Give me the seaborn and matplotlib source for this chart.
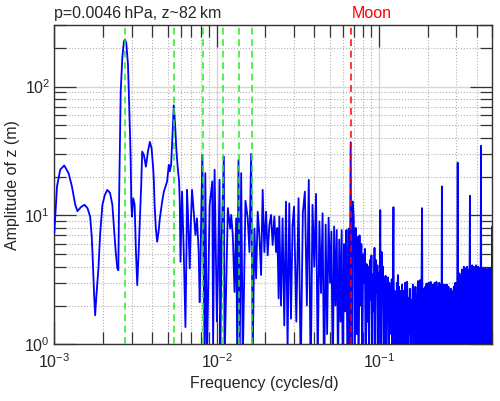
import numpy as np
import matplotlib
matplotlib.use('Agg')
import matplotlib.pyplot as plt
import matplotlib.ticker as mticker
import matplotlib.transforms as mtransforms
import seaborn as sns

## DATA - amplitude spectrum of z

# smooth low-frequency part (cycles/d, m)
low_freq = [0.001000, 0.001039, 0.001088, 0.001152, 0.001224, 0.001284, 0.001346,
            0.001390, 0.001458, 0.001534, 0.001601, 0.001663, 0.001699, 0.001718,
            0.001760, 0.001785, 0.001818, 0.001870, 0.001915, 0.001979, 0.002047,
            0.002123, 0.002206, 0.002279, 0.002334, 0.002391, 0.002446, 0.002480]
low_amp = [7.3, 16.8, 22.7, 24.4, 21.3, 16.8, 12.1,
           10.8, 11.6, 12.1, 11.4, 9.8, 7.0, 5.2,
           2.4, 1.68, 2.4, 3.88, 7.05, 12.1, 14.4,
           15.8, 14.9, 12.1, 7.9, 5.2, 3.88, 3.76]

# annual and semi-annual peaks
seasonal_freq = [0.002505, 0.002530, 0.002566, 0.002624, 0.002688, 0.002727, 0.002777,
                 0.002845, 0.002897, 0.002955, 0.002980, 0.003010, 0.003066, 0.003127,
                 0.003185, 0.003244, 0.003309, 0.003370, 0.003432, 0.003481, 0.003566,
                 0.003668, 0.003774, 0.003882, 0.003976, 0.004067, 0.004108, 0.004149,
                 0.004225, 0.004304, 0.004390, 0.004471, 0.004619, 0.004731, 0.004846,
                 0.004957, 0.005077, 0.005150, 0.005245, 0.005350, 0.005449, 0.005550,
                 0.005661, 0.005766, 0.005873, 0.005931, 0.005990, 0.006127, 0.006276,
                 0.006428, 0.006520, 0.006575, 0.006707, 0.006831, 0.006958, 0.007057,
                 0.007229, 0.007404, 0.007573, 0.007757, 0.007868]
seasonal_amp = [12.0, 28.0, 91.7, 167, 225, 232, 218,
                148, 68, 27.8, 12.8, 9.8, 13.6, 12.1,
                5.2, 2.88, 5.2, 9.5, 17.3, 31.3, 29.5,
                23.9, 31.3, 37.2, 33.3, 23.3, 18.4, 12.1,
                7.9, 6.25, 7.45, 9.5, 12.8, 15.3, 16.8,
                18.4, 24.7, 22.0, 24.7, 42.0, 71.6, 50.6,
                31.3, 23.3, 18.4, 12.8, 4.37, 15.3, 5.2,
                1.36, 5.2, 15.8, 8.4, 3.88, 9.5, 15.8,
                10.7, 7.05, 9.5, 5.2, 2.13]

# 0.008 - 0.03 cycles/d
mid_freq = [0.008172, 0.008441, 0.008523, 0.008720, 0.009060, 0.009410, 0.009518,
            0.009721, 0.010042, 0.010185, 0.010433, 0.010536, 0.010732, 0.011085,
            0.011195, 0.011732, 0.012134, 0.012308, 0.012589, 0.012894, 0.013208,
            0.013396, 0.013646, 0.013899, 0.014176, 0.014500, 0.015063, 0.015560,
            0.015939, 0.016326, 0.016699, 0.017104, 0.017522, 0.017922, 0.018357,
            0.018802, 0.019231, 0.019700, 0.020180, 0.020640, 0.021143, 0.021656,
            0.022150, 0.022690, 0.023244, 0.023667, 0.024112, 0.024351, 0.024942,
            0.025513, 0.026135, 0.026770, 0.027381, 0.028051, 0.028730, 0.029385]
mid_amp = [29.6, 0.8, 21.3, 0.7, 12.0, 18.4, 0.9,
           22.6, 1.5, 3.25, 18.9, 0.8, 6.0, 28.7,
           0.7, 11.4, 7.9, 10.1, 7.05, 2.55, 9.5,
           0.8, 27.0, 0.9, 21.3, 0.7, 13.0, 9.5,
           5.2, 30.0, 0.8, 7.9, 3.25, 10.7, 7.05,
           3.45, 15.8, 5.2, 10.7, 4.9, 8.4, 10.1,
           5.9, 9.8, 5.2, 8.0, 2.27, 9.8, 2.0,
           9.5, 1.4, 12.8, 0.9, 12.4, 1.58, 8.4]

# noisy high-frequency bands on a regular frequency grid (start, step)
band_a_grid = (0.030, 0.001)
band_a_amp = [11.7, 1.5, 13.6, 0.6, 10.5, 15.3, 2.0, 18.9, 0.5, 12.1,
              4.0, 14.7, 0.7, 9.0, 2.5, 10.4, 0.4, 8.5, 1.2, 9.6,
              3.0, 7.5, 0.5, 8.2, 2.0, 7.7, 0.6, 6.5, 1.5, 7.7,
              0.4, 6.0, 1.8, 7.7, 0.7, 7.9, 1.0, 37.0, 0.8, 12.8]

band_b_grid = (0.070, 0.001)
band_b_amp = [9.5, 0.6, 8.0, 1.2, 6.8, 0.5, 7.0, 2.0, 6.0, 0.7,
              5.0, 3.0, 5.5, 0.4, 4.2, 1.5, 4.0, 0.8, 4.5, 2.2,
              4.9, 0.5, 3.5, 1.8, 5.6, 0.6, 4.5, 2.5, 4.1, 0.9,
              3.6, 1.4, 11.0, 0.7, 5.2, 2.0, 4.0, 0.5, 3.3, 1.6,
              3.4, 0.8, 2.9, 1.9, 3.3, 0.5, 3.0, 1.2, 2.7, 2.0,
              3.2, 0.6, 2.5, 11.6, 0.8, 2.6, 1.5, 2.3, 0.4, 3.0,
              1.7, 3.45, 0.7, 2.8, 2.0, 2.6, 0.5, 2.4, 1.3, 2.9,
              0.8, 2.6, 1.9, 2.4, 0.6, 3.0, 1.5, 2.8, 0.9, 3.05]

band_c_grid = (0.150, 0.0015)
band_c_amp = [2.6, 0.5, 2.3, 1.2, 2.7, 0.4, 2.2, 1.6, 2.9, 0.7,
              2.5, 1.0, 2.8, 0.3, 2.4, 1.8, 3.1, 0.6, 2.7, 1.3,
              3.15, 0.5, 2.6, 11.4, 0.8, 2.7, 1.5, 2.4, 0.4, 2.8,
              1.1, 2.96, 0.6, 2.5, 1.7, 3.0, 0.5, 2.6, 1.2, 3.05,
              0.7, 2.4, 1.9, 2.9, 0.4, 2.7, 1.0, 3.0, 0.6, 2.5,
              1.5, 3.05, 0.5, 2.8, 1.3, 2.6, 0.7, 3.0, 1.8, 2.7,
              0.4, 2.9, 1.1, 16.8, 0.6, 2.7, 1.4, 2.9, 0.5, 2.6,
              1.0, 2.9, 0.7, 2.4, 1.6, 2.9, 0.4, 2.5, 1.2, 2.8,
              0.6, 2.55, 1.7, 2.4, 0.5, 2.7, 1.1, 2.6, 0.8, 2.3,
              1.5, 2.55, 0.4, 2.8, 1.2, 2.7, 0.6, 3.0, 1.4, 2.9]

band_d_grid = (0.300, 0.002)
band_d_amp = [3.0, 0.5, 2.6, 25.7, 0.7, 3.2, 1.3, 3.55, 0.5, 3.0,
              1.8, 3.4, 0.6, 3.8, 1.2, 3.3, 0.4, 4.0, 1.6, 3.5,
              0.8, 3.9, 1.4, 3.6, 0.5, 4.0, 2.0, 3.4, 0.7, 3.8,
              1.1, 3.5, 14.2, 0.6, 3.88, 1.5, 3.6, 0.5, 4.1, 1.0,
              3.7, 1.9, 4.0, 0.4, 3.5, 1.3, 3.9, 0.8, 4.1, 1.6,
              3.6, 0.5, 3.8, 1.2, 4.0, 0.7, 3.7, 1.8, 3.9, 0.5,
              3.6, 1.1, 4.0, 34.7, 0.8, 3.76, 1.4, 3.5, 0.5, 3.9,
              1.7, 3.6, 0.6, 3.8, 1.1, 3.4, 0.4, 3.9, 1.5, 3.7,
              0.7, 3.5, 1.9, 3.8, 0.5, 3.6, 1.2, 3.9, 0.8, 3.5,
              1.4, 3.7, 0.6, 3.9, 1.0, 3.6, 0.5, 3.8, 1.6, 8.2]

# reference lines
annual_harmonics = [1, 2, 3, 4, 5, 6]   # cycles per year
days_per_year = 365.25
moon_period = 14.77                      # days

title_text = 'p=0.0046\u2009hPa, z~82\u2009km'


## pieces of the spectrum, each kept short so no vertex gets simplified away
def band(grid, amp):
    start, step = grid
    return start + step * np.arange(len(amp)), np.array(amp)

pieces = [(np.array(low_freq), np.array(low_amp)),
          (np.array(seasonal_freq), np.array(seasonal_amp)),
          (np.array(mid_freq), np.array(mid_amp))]
for g, a in [(band_a_grid, band_a_amp), (band_b_grid, band_b_amp),
             (band_c_grid, band_c_amp), (band_d_grid, band_d_amp)]:
    pieces.append(band(g, a))


## PLOT
sns.set_style('ticks')
plt.rcParams['font.family'] = ['Liberation Sans', 'DejaVu Sans']
plt.rcParams['axes.unicode_minus'] = False
plt.rcParams['path.simplify'] = False

fig = plt.figure(figsize=(5, 4.01), dpi=100)
ax = fig.add_axes([0.1086, 0.1414, 0.876, 0.796])
ax.set_xscale('log')
ax.set_yscale('log')

prev = None
for f, a in pieces:
    if prev is not None:
        # join each piece to the end of the previous one
        f = np.concatenate([[prev[0]], f])
        a = np.concatenate([[prev[1]], a])
    sns.lineplot(x=f, y=a, ax=ax, color='#0000ff', linewidth=1.3,
                 estimator=None, sort=False, zorder=3)
    prev = (f[-1], a[-1])

# annual harmonics and lunar line
for k in annual_harmonics:
    ax.axvline(k / days_per_year, color='#22ee22', linestyle=(0, (4.5, 3)),
               linewidth=1.1, zorder=4)
ax.axvline(1 / moon_period, color='#ff0000', linestyle=(0, (4.5, 3)),
           linewidth=1.1, zorder=4)

ax.set_xlim(1e-3, 0.5)
ax.set_ylim(1, 300)

# grid and ticks
ax.set_axisbelow(True)
ax.grid(True, which='major', color='#d6d6d6', linestyle='-', linewidth=1.0)
ax.grid(True, which='minor', color='#b0b0b0', linestyle=':', linewidth=0.8)
ax.xaxis.set_minor_formatter(mticker.NullFormatter())
ax.yaxis.set_minor_formatter(mticker.NullFormatter())
ax.tick_params(which='both', direction='in', top=True, right=True,
               color='#333333', width=0.9, labelsize=11.5)
ax.tick_params(which='major', length=15.8)
ax.tick_params(which='minor', length=8.6)
ax.tick_params(axis='x', pad=6)
ax.tick_params(axis='y', pad=3)
for s in ax.spines.values():
    s.set_color('#333333')
    s.set_linewidth(1.0)

# labels
ax.set_xlabel('Frequency (cycles/d)', fontsize=11.5)
ax.set_ylabel('Amplitude of z (m)', fontsize=11.5, labelpad=3)
ax.xaxis.set_label_coords(0.479, -0.10)

ax.text(0, 1.022, title_text, transform=ax.transAxes, fontsize=11.5,
        ha='left', va='baseline')
trans = mtransforms.blended_transform_factory(ax.transData, ax.transAxes)
ax.text(1 / moon_period, 1.022, 'Moon', transform=trans, color='#ff0000',
        fontsize=11.5, ha='left', va='baseline')

fig.savefig('out.png', dpi=100)
